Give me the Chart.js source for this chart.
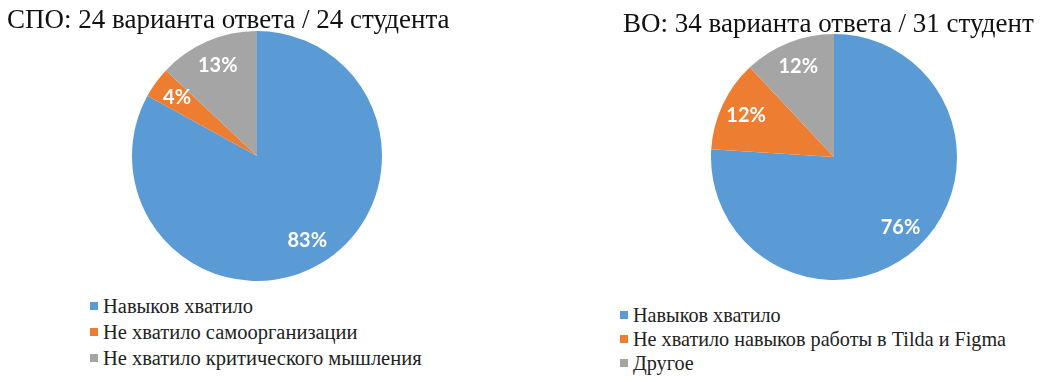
<!DOCTYPE html>
<html>
<head>
<meta charset="utf-8">
<script src="https://cdn.jsdelivr.net/npm/chart.js@4.4.1/dist/chart.umd.min.js"></script>
<style>
  body { margin: 0; background: #fff; width: 1046px; height: 382px; position: relative; overflow: hidden; }
  .title { position: absolute; font-family: "Liberation Serif", "Times New Roman", serif; font-size: 27px; line-height: 27px; color: #111; white-space: nowrap; z-index: 2; }
  .pie { position: absolute; z-index: 1; }
  .legend { position: absolute; font-family: "Liberation Serif", "Times New Roman", serif; color: #222; white-space: nowrap; }
  .legend div { display: flex; align-items: center; }
  .legend span.box { display: inline-block; width: 8px; height: 8px; margin-right: 5px; }
</style>
</head>
<body>
<div class="title" style="left:7px; top:6px;">СПО: 24 варианта ответа / 24 студента</div>
<div class="title" style="left:623px; top:10px;">ВО: 34 варианта ответа / 31 студент</div>

<div class="pie" style="left:132px; top:31px; width:250px; height:250px;"><canvas id="myChart1"></canvas></div>
<div class="pie" style="left:711px; top:34px; width:246px; height:246px;"><canvas id="myChart2"></canvas></div>

<div class="legend" id="legend1" style="left:90px; top:293px; font-size:20.5px; line-height:26px;"></div>
<div class="legend" id="legend2" style="left:620px; top:303px; font-size:20.2px; line-height:24px;"></div>

<script>
// data (percent)
const spoLabels = ['Навыков хватило', 'Не хватило самоорганизации', 'Не хватило критического мышления'];
const spoValues = [83, 4, 13];

const voLabels = ['Навыков хватило', 'Не хватило навыков работы в Tilda и Figma', 'Другое'];
const voValues = [76, 12, 12];

const colors = ['#5B9BD5', '#ED7D31', '#A5A5A5'];

// percent labels inside the slices
const sliceLabels = {
  id: 'sliceLabels',
  afterDatasetsDraw(chart) {
    const ctx = chart.ctx;
    const data = chart.data.datasets[0].data;
    ctx.save();
    ctx.font = 'bold 20px Lato, "Open Sans", sans-serif';
    ctx.fillStyle = '#fff';
    ctx.textAlign = 'center';
    ctx.textBaseline = 'middle';
    chart.getDatasetMeta(0).data.forEach((arc, i) => {
      const p = arc.getProps(['x', 'y', 'startAngle', 'endAngle', 'outerRadius'], true);
      const mid = (p.startAngle + p.endAngle) / 2;
      const r = p.outerRadius * 0.79;
      ctx.fillText(data[i] + '%', p.x + Math.cos(mid) * r, p.y + Math.sin(mid) * r);
    });
    ctx.restore();
  }
};

function makePie(id, labels, values) {
  return new Chart(document.getElementById(id).getContext('2d'), {
    type: 'pie',
    data: {
      labels: labels,
      datasets: [{
        data: values,
        backgroundColor: colors,
        borderWidth: 0
      }]
    },
    options: {
      responsive: true,
      maintainAspectRatio: false,
      animation: false,
      layout: { padding: 0 },
      plugins: {
        legend: { display: false },
        tooltip: { enabled: false }
      }
    },
    plugins: [sliceLabels]
  });
}

function makeLegend(id, labels) {
  const el = document.getElementById(id);
  labels.forEach((l, i) => {
    const row = document.createElement('div');
    row.innerHTML = '<span class="box" style="background:' + colors[i] + '"></span>' + l;
    el.appendChild(row);
  });
}

makePie('myChart1', spoLabels, spoValues);
makePie('myChart2', voLabels, voValues);
makeLegend('legend1', spoLabels);
makeLegend('legend2', voLabels);
</script>
</body>
</html>
